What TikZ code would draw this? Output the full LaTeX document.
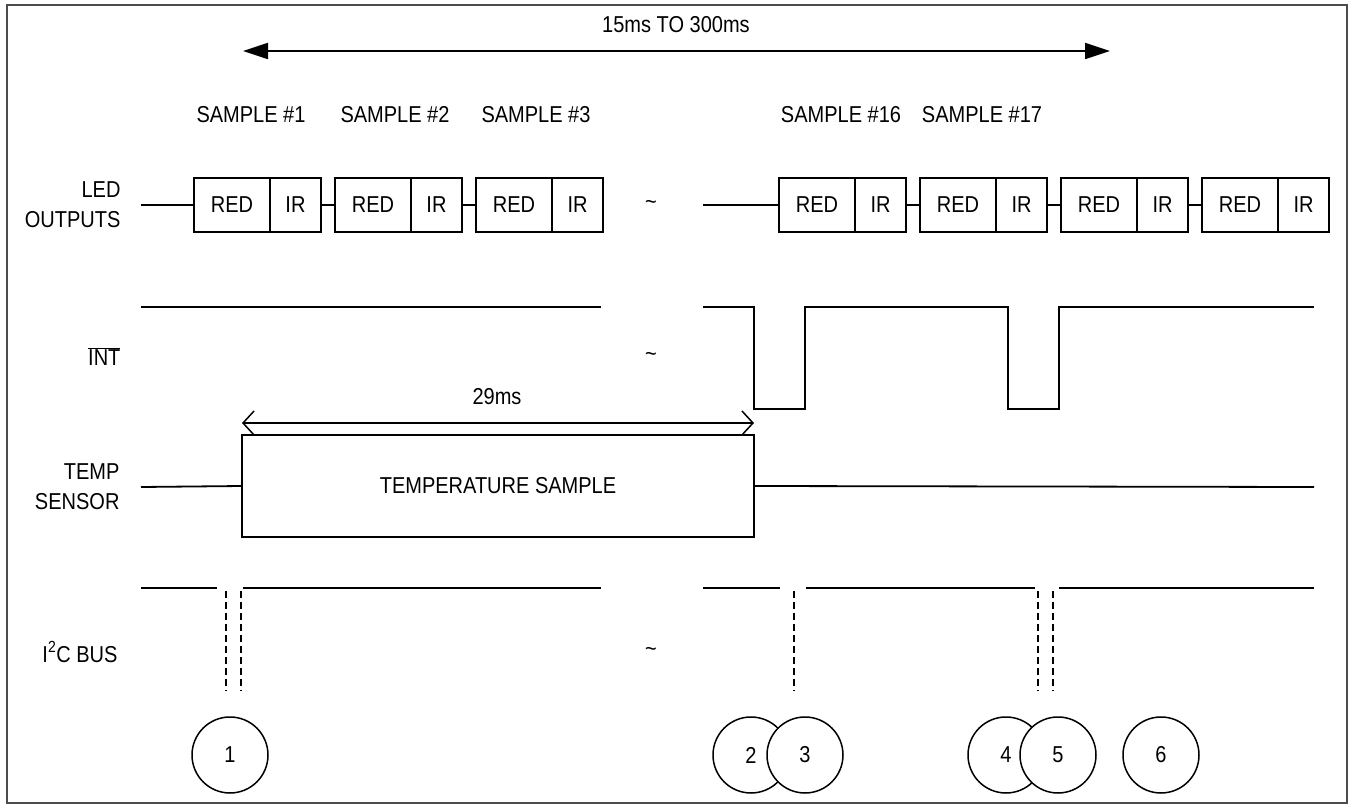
\documentclass[tikz,border=0pt]{standalone}
\usepackage{fontspec}
\setmainfont{Liberation Sans}[FakeStretch=0.87]
\usetikzlibrary{arrows.meta,positioning}
\tikzset{
  sig/.style={line width=1.8pt},
  redbox/.style={draw,line width=1.8pt,minimum width=76pt,minimum height=54pt,inner sep=0pt,outer sep=0pt},
  irbox/.style={redbox,minimum width=51pt},
  lbl/.style={anchor=east,align=right},
  circ/.style={draw,circle,line width=1.5pt,fill=white,minimum size=76pt,inner sep=0pt},
  marker/.style={line width=1.2pt,dash pattern=on 7pt off 4pt}
}
\begin{document}
\begin{tikzpicture}[x=1pt,y=-1pt,font=\fontsize{23}{30}\selectfont]
        \useasboundingbox (0,0) rectangle (1353,805);
        \draw[black!70,line width=1.5pt] (7,5) rectangle (1347,803);

        %freccia periodo
        \draw[sig,{Triangle[length=25pt,width=16pt]}-{Triangle[length=25pt,width=16pt]}] (243,51) -- (1110,51);
        \node (per) at (676,25) {15ms TO 300ms};

        %etichette campioni
        \node (s1) at (251,115) {SAMPLE \#1};
        \node (s2) at (395,115) {SAMPLE \#2};
        \node (s3) at (536,115) {SAMPLE \#3};
        \node (s16) at (841,115) {SAMPLE \#16};
        \node (s17) at (982,115) {SAMPLE \#17};

        %etichette segnali
        \node[lbl] (lled) at (124,205) {LED\\OUTPUTS};
        \node[lbl] (lint) at (124,357) {$\overline{\hbox{INT}}$};
        \node[lbl] (ltemp) at (123,487) {TEMP\\SENSOR};
        \node[lbl] (li2c) at (121,652) {I\textsuperscript{2}C BUS};

        %interruzioni
        \node (g1) at (651,205) {\textasciitilde};
        \node (g2) at (651,357) {\textasciitilde};
        \node (g3) at (651,652) {\textasciitilde};

        %uscite led
        \foreach \n/\x in {1/194,2/335,3/476,4/779,5/920,6/1061,7/1202}{
          \node[redbox,anchor=west] (r\n) at (\x,205) {RED};
          \node[irbox,right=0pt of r\n] (i\n) {IR};
        }
        \coordinate (led0) at (141,205);
        \coordinate (led1) at (703,205);
        \draw[sig] (led0) -- (r1.west);
        \draw[sig] (led1) -- (r4.west);
        \foreach \a/\b in {1/2,2/3,4/5,5/6,6/7}
          \draw[sig] (i\a.east) -- (r\b.west);

        %segnale INT
        \draw[sig] (141,307) -- (601,307);
        \draw[sig] (703,307) -- (754,307) -- (754,409) -- (805,409) -- (805,307)
              -- (1008,307) -- (1008,409) -- (1059,409) -- (1059,307) -- (1314,307);

        %sensore temperatura
        \node[redbox,minimum width=512pt,minimum height=102pt] (tsamp) at (498,486) {TEMPERATURE SAMPLE};
        \coordinate (t0) at (141,487);
        \coordinate (t1) at (1314,487);
        \draw[sig] (t0) -- (tsamp.west);
        \draw[sig] (tsamp.east) -- (t1);
        \draw[line width=1.5pt,{Straight Barb[length=11pt,width=24pt]}-{Straight Barb[length=11pt,width=24pt]}]
              ([yshift=12pt]tsamp.north west) -- ([yshift=12pt]tsamp.north east);
        \node (dur) at (497,397) {29ms};

        %bus I2C
        \draw[sig] (141,588) -- (217,588);
        \draw[sig] (243,588) -- (601,588);
        \draw[sig] (703,588) -- (780,588);
        \draw[sig] (806,588) -- (1035,588);
        \draw[sig] (1059,588) -- (1314,588);
        \foreach \x in {226,241,794,1038,1053}
          \draw[marker] (\x,591) -- (\x,691);

        %eventi
        \node[circ] (c1) at (230,755) {1};
        \node[circ] (c2) at (751,755) {2};
        \node[circ] (c3) at (805,755) {3};
        \node[circ] (c4) at (1006,755) {4};
        \node[circ] (c5) at (1058,755) {5};
        \node[circ] (c6) at (1161,755) {6};
\end{tikzpicture}
\end{document}
